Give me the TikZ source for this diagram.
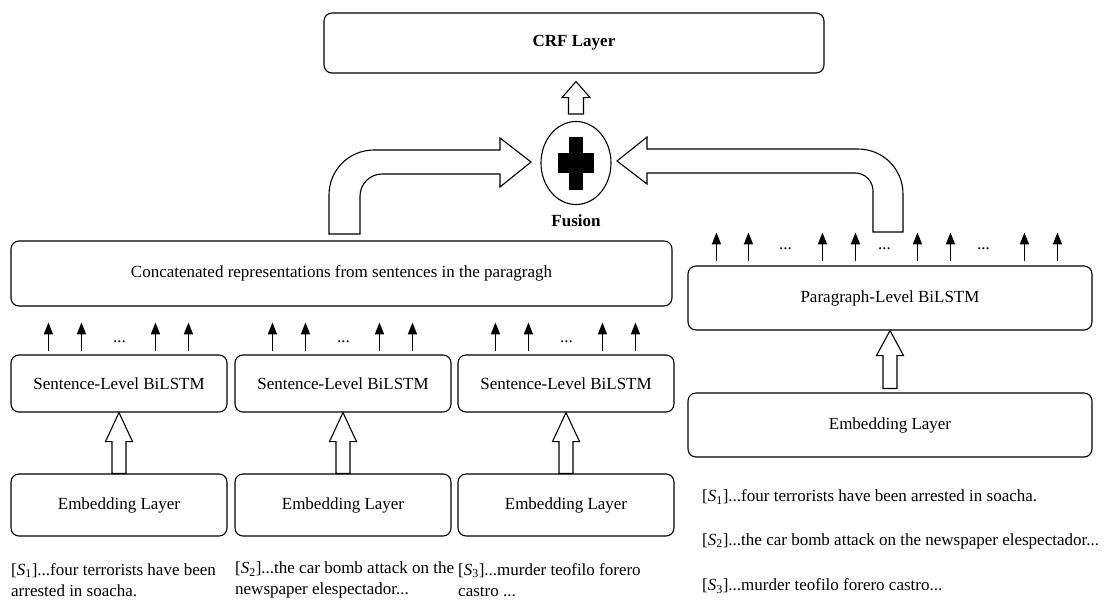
\documentclass[tikz,border=0pt]{standalone}
\usepackage{fontspec}
\setmainfont{Liberation Serif}
\usetikzlibrary{positioning, calc, arrows.meta, shapes.geometric}

\tikzset{
  layerbox/.style={draw, rounded corners=8pt, line width=1.1pt, inner sep=0pt, align=center},
  blockarrow/.style={draw, line width=1.1pt, fill=white},
  outarrow/.style={-{Triangle[width=9pt,length=12pt]}, line width=1.6pt},
  sentence/.style={anchor=west, align=left, inner sep=0pt},
}

% hollow upward arrow: bottom, top, shaft half width, head half width, head length
\newcommand{\hollowup}[5]{%
  \draw[blockarrow] let \p1=(#1), \p2=(#2) in
    (\x1-#3,\y1) -- (\x1-#3,\y2-#5) -- (\x1-#4,\y2-#5) -- (\x1,\y2)
    -- (\x1+#4,\y2-#5) -- (\x1+#3,\y2-#5) -- (\x1+#3,\y1) -- cycle;}

\begin{document}
\begin{tikzpicture}[x=1pt, y=-1pt, every node/.style={font=\fontsize{17}{21}\selectfont}]
\useasboundingbox (0,0) rectangle (1104,600);

% top part
\node[layerbox, minimum width=500pt, minimum height=60pt, font=\fontsize{17}{21}\selectfont\bfseries] (crf) at (574,43) {CRF Layer};
\node[ellipse, draw, line width=1.1pt, minimum width=70pt, minimum height=83pt, inner sep=0pt] (fusion) at (576,163) {};
\fill ($(fusion)+(-7,-26)$) rectangle ($(fusion)+(7,27)$);
\fill ($(fusion)+(-18,-10)$) rectangle ($(fusion)+(18,10)$);
\node[font=\fontsize{17}{21}\selectfont\bfseries] (fusionlabel) at (576,221) {Fusion};
\hollowup{$(fusion.north)+(0,-7)$}{$(crf.south)+(0,8)$}{7.5pt}{14pt}{16pt}

% sentence level
\node[layerbox, minimum width=661pt, minimum height=65pt] (concat) at (341.5,273.5) {Concatenated representations from sentences in the paragragh};
\foreach \i/\cx in {1/119, 2/343, 3/566} {
  \node[layerbox, minimum width=216pt, minimum height=57pt] (sent\i) at (\cx,383.5) {Sentence-Level BiLSTM};
  \node[layerbox, minimum width=216pt, minimum height=62pt] (emb\i) at (\cx,505) {Embedding Layer};
  \hollowup{emb\i.north}{sent\i.south}{7pt}{13.5pt}{29pt}
  \foreach \dx in {38,71,145,178}
    \draw[outarrow] (sent\i.north west) ++(\dx,-3) -- ++(0,-29);
  \node at ($(sent\i.north west)+(109,-13)$) {...};
}
\node[sentence] (stxt1) at (11,580) {[\textit{S}\textsubscript{1}]...four terrorists have been\\arrested in soacha.};
\node[sentence] (stxt2) at (235,580) {[\textit{S}\textsubscript{2}]...the car bomb attack on the\\newspaper elespectador...};
\node[sentence] (stxt3) at (458,580) {[\textit{S}\textsubscript{3}]...murder teofilo forero\\castro ...};

% paragraph level
\node[layerbox, minimum width=404pt, minimum height=64pt] (para) at (890,298) {Paragraph-Level BiLSTM};
\node[layerbox, minimum width=404pt, minimum height=64pt] (embp) at (890,425) {Embedding Layer};
\hollowup{$(embp.north)+(0,-4)$}{para.south}{7pt}{13.5pt}{25pt}
\foreach \dx in {29,61,135,168,230,263,337,370}
  \draw[outarrow] (para.north west) ++(\dx,-4) -- ++(0,-29);
\foreach \dx in {98,197,296}
  \node at ($(para.north west)+(\dx,-17)$) {...};
\node[sentence] (ptxt1) at (702,497) {[\textit{S}\textsubscript{1}]...four terrorists have been arrested in soacha.};
\node[sentence] (ptxt2) at (702,541) {[\textit{S}\textsubscript{2}]...the car bomb attack on the newspaper elespectador...};
\node[sentence] (ptxt3) at (702,586) {[\textit{S}\textsubscript{3}]...murder teofilo forero castro...};

% bent arrows into fusion
\draw[blockarrow] (329,234) -- (329,195) .. controls (329,170) and (349,150) .. (374,150)
  -- (500,150) -- (500,138) -- (531,162) -- (500,187) -- (500,174) -- (382,174)
  .. controls (370,174) and (360,184) .. (360,196) -- (360,234) -- cycle;
\draw[blockarrow] (617,161) -- (647,137) -- (647,149) -- (858,149)
  .. controls (883,149) and (903,169) .. (903,194) -- (903,232) -- (873,232) -- (873,191)
  .. controls (873,181) and (865,173) .. (855,173) -- (647,173) -- (647,184) -- cycle;
\end{tikzpicture}
\end{document}
